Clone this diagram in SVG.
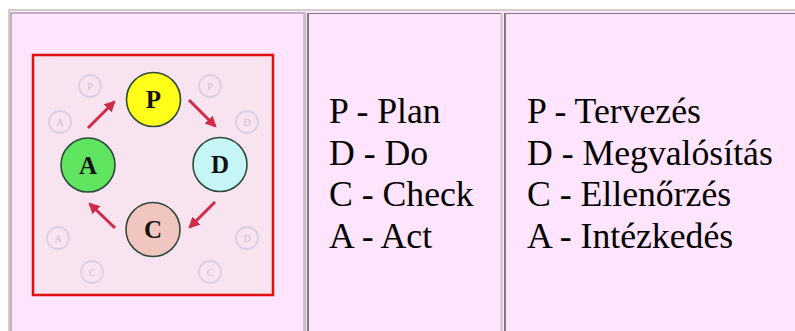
<svg xmlns="http://www.w3.org/2000/svg" width="795" height="331" viewBox="0 0 795 331">
<defs>
<style>
text{font-family:'Liberation Serif',Tinos,'Times New Roman','DejaVu Serif',serif}
.lbl{font-size:35.7px;fill:#000}
.big{font-size:25px;font-weight:bold;fill:#111;text-anchor:middle}
.ghost{fill:none;stroke:#dccfe4;stroke-width:1.8}
.gt{font-size:10px;fill:#cbbfd6;text-anchor:middle}
.node{stroke:#2f4a3a;stroke-width:1.6}
.arr{stroke:#d02a48;stroke-width:3;fill:none;marker-end:url(#ah)}
</style>
<marker id="ah" viewBox="0 0 10 10" refX="8" refY="5" markerWidth="3.8" markerHeight="3.8" orient="auto">
<path d="M0,0 L10,5 L0,10 z" fill="#d02a48"/>
</marker>
</defs>
<rect width="795" height="331" fill="#ffffff"/>
<g id="table">
<rect x="8" y="9" width="790" height="330" fill="#d4ccc8"/>
<rect x="10" y="11" width="788" height="330" fill="#ffe4fd"/>
<rect x="11" y="13" width="294" height="330" fill="#ffe4fd" stroke="#8a7a8a" stroke-width="1"/>
<line x1="304" y1="13" x2="304" y2="331" stroke="#d0c0c8" stroke-width="2"/>
<line x1="308" y1="13" x2="308" y2="331" stroke="#807880" stroke-width="2"/>
<line x1="308" y1="13.5" x2="501" y2="13.5" stroke="#807880" stroke-width="1"/>
<line x1="501.5" y1="13" x2="501.5" y2="331" stroke="#d0c0c8" stroke-width="2"/>
<line x1="505" y1="13" x2="505" y2="331" stroke="#807880" stroke-width="2"/>
<line x1="505" y1="13.5" x2="795" y2="13.5" stroke="#807880" stroke-width="1"/>
</g>
<g id="picture">
<rect x="33" y="55" width="240" height="240" fill="#f8e4f0" stroke="#e01010" stroke-width="2.5"/>
<g id="ghosts">
<circle class="ghost" cx="90" cy="86" r="11"/><text class="gt" x="90" y="89.5">P</text>
<circle class="ghost" cx="60" cy="122" r="11"/><text class="gt" x="60" y="125.5">A</text>
<circle class="ghost" cx="210" cy="86" r="11"/><text class="gt" x="210" y="89.5">P</text>
<circle class="ghost" cx="247" cy="122" r="11"/><text class="gt" x="247" y="125.5">D</text>
<circle class="ghost" cx="58" cy="238" r="11"/><text class="gt" x="58" y="241.5">A</text>
<circle class="ghost" cx="92" cy="272" r="11"/><text class="gt" x="92" y="275.5">C</text>
<circle class="ghost" cx="210" cy="272" r="11"/><text class="gt" x="210" y="275.5">C</text>
<circle class="ghost" cx="247" cy="238" r="11"/><text class="gt" x="247" y="241.5">D</text>
</g>
</g>
<g id="connectors">
<line class="arr" x1="88" y1="128" x2="114" y2="102"/>
<line class="arr" x1="189" y1="100" x2="215" y2="126"/>
<line class="arr" x1="215" y1="202" x2="190" y2="227"/>
<line class="arr" x1="115" y1="228" x2="90" y2="204"/>
</g>
<g id="P"><circle class="node" cx="153.5" cy="99.5" r="27" fill="#ffff1a"/><text class="big" x="153.5" y="108">P</text></g>
<g id="D"><circle class="node" cx="220" cy="164.5" r="27" fill="#c6f6f6"/><text class="big" x="220" y="173">D</text></g>
<g id="C"><circle class="node" cx="153" cy="229.5" r="27" fill="#f2c6c0"/><text class="big" x="153" y="238">C</text></g>
<g id="A"><circle class="node" cx="88" cy="165" r="27" fill="#5ee45e"/><text class="big" x="88" y="173.5">A</text></g>
<g id="col-en">
<text class="lbl" x="329" y="123">P - Plan</text>
<text class="lbl" x="329" y="164.5">D - Do</text>
<text class="lbl" x="329" y="206">C - Check</text>
<text class="lbl" x="329" y="247.5">A - Act</text>
</g>
<g id="col-hu">
<text class="lbl" x="527" y="123">P - Tervezés</text>
<text class="lbl" x="527" y="164.5">D - Megvalósítás</text>
<text class="lbl" x="527" y="206">C - Ellenőrzés</text>
<text class="lbl" x="527" y="247.5">A - Intézkedés</text>
</g>
</svg>
